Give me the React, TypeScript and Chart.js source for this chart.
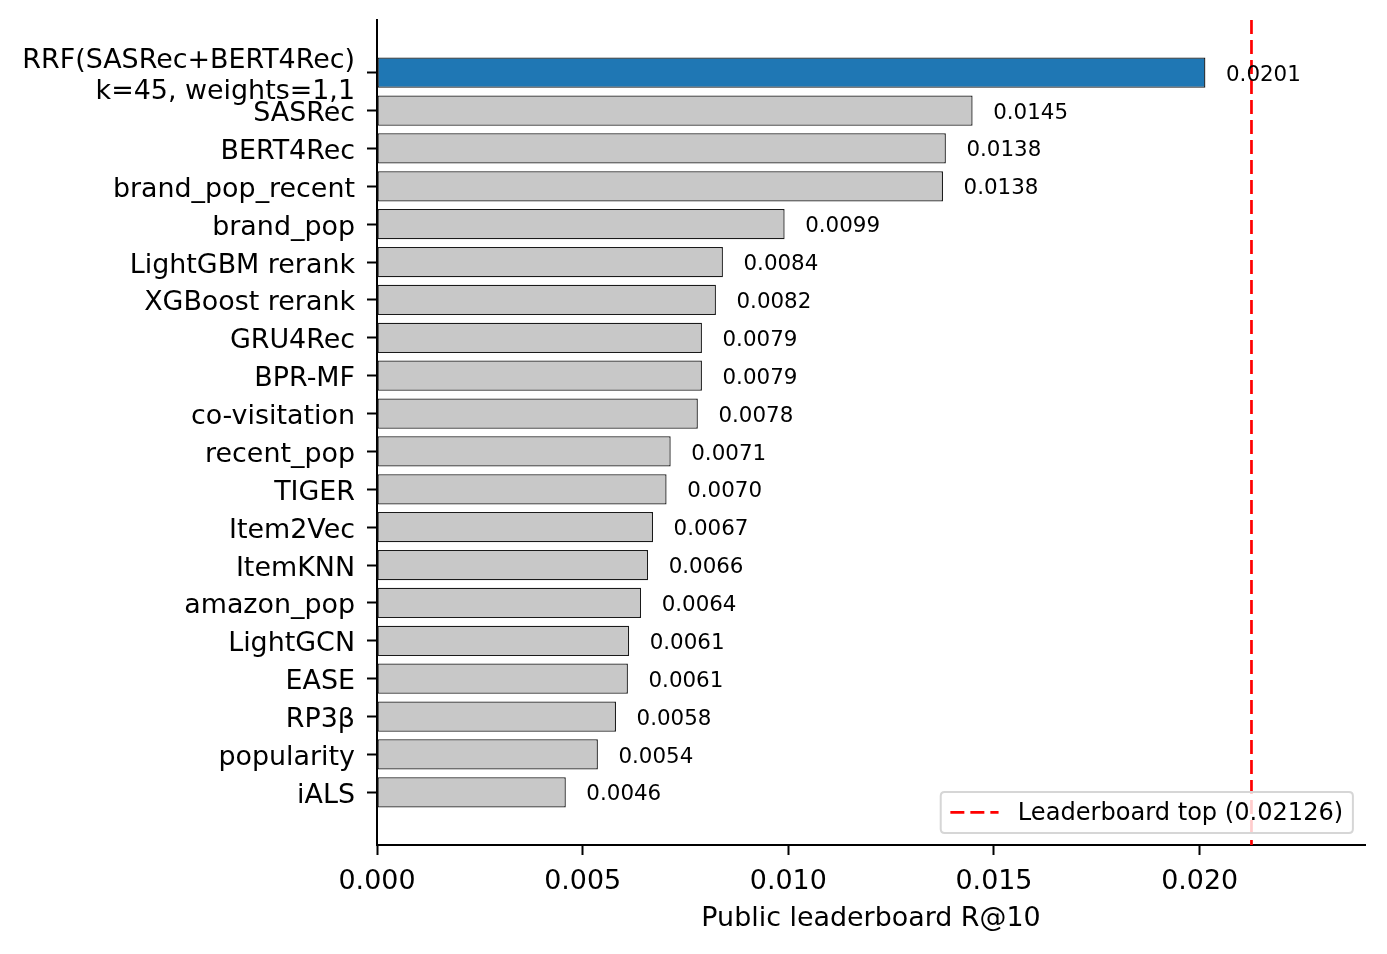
import React, { useEffect, useRef } from "react";
import { Chart, registerables } from "chart.js";

Chart.register(...registerables);

const MODELS: string[] = [
  "RRF(SASRec+BERT4Rec)\nk=45, weights=1,1",
  "SASRec",
  "BERT4Rec",
  "brand_pop_recent",
  "brand_pop",
  "LightGBM rerank",
  "XGBoost rerank",
  "GRU4Rec",
  "BPR-MF",
  "co-visitation",
  "recent_pop",
  "TIGER",
  "Item2Vec",
  "ItemKNN",
  "amazon_pop",
  "LightGCN",
  "EASE",
  "RP3β",
  "popularity",
  "iALS",
];

const SCORES: number[] = [
  0.02014, 0.01448, 0.01383, 0.01376, 0.00991, 0.00841, 0.00824, 0.0079,
  0.0079, 0.0078, 0.00714, 0.00704, 0.00671, 0.00659, 0.00642, 0.00613,
  0.0061, 0.00581, 0.00537, 0.00459,
];

const HIGHLIGHT_INDEX = 0;
const LEADER_TOP = 0.02126;
const LEGEND_LABEL = "Leaderboard top (0.02126)";
const X_TICKS: number[] = [0, 0.005, 0.01, 0.015, 0.02];
const X_MAX = 0.02402;
const Y_MIN = -1.39;
const Y_MAX = 20.39;
const X_TITLE = "Public leaderboard R@10";

const FONT = "DejaVu Sans";
const TICK_PX = 26.9;
const VALUE_PX = 21.4;
const LEGEND_PX = 24.1;

export default function App() {
  const ref = useRef<HTMLCanvasElement | null>(null);

  useEffect(() => {
    document.body.style.margin = "0";
    document.body.style.overflow = "hidden";
    if (!ref.current) return;

    const valuePlugin = {
      id: "valueLabels",
      afterDatasetsDraw(chart: any) {
        const ctx = chart.ctx as CanvasRenderingContext2D;
        const xs = chart.scales.x;
        const ys = chart.scales.y;
        ctx.save();
        ctx.fillStyle = "#000";
        ctx.font = `${VALUE_PX}px "${FONT}"`;
        ctx.textAlign = "left";
        ctx.textBaseline = "middle";
        SCORES.forEach((v, i) => {
          const x = xs.getPixelForValue(v + 0.0005);
          const y = ys.getPixelForValue(i);
          ctx.fillText(v.toFixed(4), x, y + 2.5);
        });

        // legend (lower right)
        const area = chart.chartArea;
        const fs = LEGEND_PX;
        ctx.font = `${fs}px "${FONT}"`;
        const tw = ctx.measureText(LEGEND_LABEL).width;
        const pad = 0.4 * fs;
        const handle = 2 * fs;
        const gap = 0.8 * fs;
        const w = pad + handle + gap + tw + pad;
        const h = 41;
        const right = area.right - 0.45 * TICK_PX;
        const bottom = area.bottom - 0.45 * TICK_PX;
        const left = right - w;
        const top = bottom - h;
        const r = 4;
        ctx.beginPath();
        ctx.moveTo(left + r, top);
        ctx.lineTo(right - r, top);
        ctx.quadraticCurveTo(right, top, right, top + r);
        ctx.lineTo(right, bottom - r);
        ctx.quadraticCurveTo(right, bottom, right - r, bottom);
        ctx.lineTo(left + r, bottom);
        ctx.quadraticCurveTo(left, bottom, left, bottom - r);
        ctx.lineTo(left, top + r);
        ctx.quadraticCurveTo(left, top, left + r, top);
        ctx.closePath();
        ctx.fillStyle = "rgba(255,255,255,0.8)";
        ctx.fill();
        ctx.strokeStyle = "#d6d6d6";
        ctx.lineWidth = 2;
        ctx.stroke();

        const cy = top + h / 2;
        ctx.beginPath();
        ctx.setLineDash([14, 6]);
        ctx.strokeStyle = "red";
        ctx.lineWidth = 2.7;
        ctx.moveTo(left + pad, cy);
        ctx.lineTo(left + pad + handle, cy);
        ctx.stroke();
        ctx.setLineDash([]);
        ctx.fillStyle = "#000";
        ctx.textBaseline = "middle";
        ctx.fillText(LEGEND_LABEL, left + pad + handle + gap, cy + 1);
        ctx.restore();
      },
    };

    const chart = new Chart(ref.current, {
      type: "bar",
      data: {
        datasets: [
          {
            type: "bar",
            label: "scores",
            data: SCORES.map((v, i) => ({ x: v, y: i })),
            backgroundColor: SCORES.map((_, i) =>
              i === HIGHLIGHT_INDEX ? "#1f77b4" : "#c8c8c8"
            ),
            borderColor: "#1a1a1a",
            borderWidth: 1.3,
            borderSkipped: false,
            barPercentage: 0.8,
            categoryPercentage: 1,
            order: 2,
          } as any,
          {
            type: "line",
            label: LEGEND_LABEL,
            data: [
              { x: LEADER_TOP, y: Y_MIN },
              { x: LEADER_TOP, y: Y_MAX },
            ],
            borderColor: "red",
            borderWidth: 2.7,
            borderDash: [14, 6],
            pointRadius: 0,
            fill: false,
            order: 1,
          } as any,
        ],
      },
      options: {
        indexAxis: "y",
        animation: false,
        responsive: true,
        maintainAspectRatio: false,
        events: [],
        layout: { padding: { top: 20, right: 22, left: 0, bottom: 0 } },
        plugins: {
          legend: { display: false },
          tooltip: { enabled: false },
          title: { display: false },
        },
        scales: {
          x: {
            type: "linear",
            position: "bottom",
            min: 0,
            max: X_MAX,
            offset: false,
            afterBuildTicks(scale: any) {
              scale.ticks = X_TICKS.map((v) => ({ value: v }));
            },
            afterFit(scale: any) {
              scale.height = 109;
            },
            ticks: {
              color: "#000",
              font: { family: FONT, size: TICK_PX },
              padding: 11,
              maxRotation: 0,
              callback: (v: any) => Number(v).toFixed(3),
            },
            grid: {
              display: true,
              offset: false,
              drawOnChartArea: false,
              drawTicks: true,
              tickLength: 10,
              tickWidth: 2,
              color: "#000",
            },
            border: { display: true, color: "#000", width: 2 },
            title: {
              display: true,
              text: X_TITLE,
              color: "#000",
              font: { family: FONT, size: TICK_PX },
              padding: { top: 0, bottom: 19 },
            },
          },
          y: {
            type: "linear",
            position: "left",
            min: Y_MIN,
            max: Y_MAX,
            reverse: true,
            offset: false,
            afterBuildTicks(scale: any) {
              scale.ticks = MODELS.map((_, i) => ({ value: i }));
            },
            afterFit(scale: any) {
              scale.width = 377;
              scale.paddingTop = 0;
              scale.paddingBottom = 0;
            },
            ticks: {
              color: "#000",
              autoSkip: false,
              font: { family: FONT, size: TICK_PX, lineHeight: 1.15 },
              padding: 12,
              labelOffset: 3.5,
              callback: (v: any) => {
                const s = MODELS[Math.round(Number(v))];
                if (s === undefined) return "";
                return s.includes("\n") ? s.split("\n") : s;
              },
            },
            grid: {
              display: true,
              offset: false,
              drawOnChartArea: false,
              drawTicks: true,
              tickLength: 10,
              tickWidth: 2,
              color: "#000",
            },
            border: { display: true, color: "#000", width: 2 },
          },
        },
      } as any,
      plugins: [valuePlugin],
    });

    return () => chart.destroy();
  }, []);

  return (
    <div style={{ width: 1387, height: 954, position: "relative", background: "#fff" }}>
      <canvas ref={ref} />
    </div>
  );
}
